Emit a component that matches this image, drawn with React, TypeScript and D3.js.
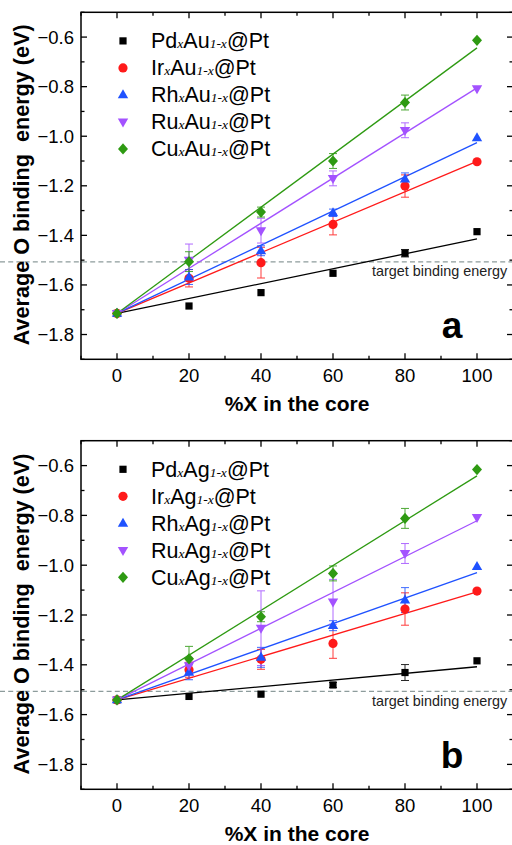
import * as d3 from 'd3'

const W = 512
const H = 845

// compositions (%X in the core)
const xs = [0, 20, 40, 60, 80, 100]
const elements = ['Pd', 'Ir', 'Rh', 'Ru', 'Cu']
const colors = ['#000000', '#ff1a1a', '#1f52ff', '#a352ff', '#2e9a12']
const shapes = ['square', 'circle', 'up', 'down', 'diamond']

// panel a: X(x)Au(1-x)@Pt
const auPd = [-1.715, -1.685, -1.631, -1.553, -1.472, -1.385]
const auIr = [-1.715, -1.573, -1.51, -1.356, -1.201, -1.103]
const auRh = [-1.715, -1.568, -1.462, -1.309, -1.173, -1.007]
const auRu = [-1.715, -1.5, -1.381, -1.17, -0.976, -0.808]
const auCu = [-1.715, -1.506, -1.306, -1.1, -0.864, -0.613]
const auPdErr = [0, 0, 0, 0, 0.015, 0]
const auIrErr = [0, 0.035, 0.062, 0.042, 0.045, 0]
const auRhErr = [0, 0.03, 0.02, 0.015, 0.025, 0]
const auRuErr = [0, 0.065, 0.05, 0.03, 0.03, 0]
const auCuErr = [0, 0.04, 0.02, 0.03, 0.03, 0]

// panel b: X(x)Ag(1-x)@Pt
const agPd = [-1.541, -1.527, -1.518, -1.481, -1.431, -1.384]
const agIr = [-1.541, -1.42, -1.378, -1.314, -1.176, -1.104]
const agRh = [-1.541, -1.43, -1.37, -1.243, -1.14, -1.006]
const agRu = [-1.541, -1.403, -1.253, -1.147, -0.953, -0.808]
const agCu = [-1.541, -1.376, -1.207, -1.033, -0.812, -0.616]
const agPdErr = [0, 0, 0, 0.01, 0.032, 0]
const agIrErr = [0, 0.03, 0.04, 0.06, 0.065, 0]
const agRhErr = [0, 0.03, 0.04, 0.02, 0.05, 0]
const agRuErr = [0, 0.03, 0.15, 0.09, 0.04, 0]
const agCuErr = [0, 0.05, 0.02, 0.03, 0.04, 0]

const target = -1.507
const xMajor = [0, 20, 40, 60, 80, 100]
const xMinor = d3.range(-10, 111, 10).filter(v => !xMajor.includes(v))
const yMajor = [-0.6, -0.8, -1.0, -1.2, -1.4, -1.6, -1.8]
const yMinor = [-0.5, -0.7, -0.9, -1.1, -1.3, -1.5, -1.7, -1.9]

const panels = [
  { host: 'Au', tag: 'a', top: 12.3, bottom: 359.3, ys: [auPd, auIr, auRh, auRu, auCu], errs: [auPdErr, auIrErr, auRhErr, auRuErr, auCuErr] },
  { host: 'Ag', tag: 'b', top: 440.7, bottom: 789.3, ys: [agPd, agIr, agRh, agRu, agCu], errs: [agPdErr, agIrErr, agRhErr, agRuErr, agCuErr] },
]

const font = 'Arial, "Liberation Sans", sans-serif'
const serif = '"Liberation Serif", "Times New Roman", serif'

// least squares through the first point, as the fit lines start at x = 0
const fit = (ys: number[]) => {
  const y0 = ys[0]
  const num = d3.sum(xs, (x, i) => x * (ys[i] - y0))
  const den = d3.sum(xs, x => x * x)
  const k = num / den
  return [[0, y0], [100, y0 + 100 * k]] as [number, number][]
}

const Marker = ({ shape, cx, cy, color }: { shape: string, cx: number, cy: number, color: string }) => {
  if (shape === 'square') return <rect x={cx - 3.6} y={cy - 3.6} width={7.2} height={7.2} fill={color} />
  if (shape === 'circle') return <circle cx={cx} cy={cy} r={4.6} fill={color} />
  let pts: number[][] = []
  if (shape === 'up') pts = [[0, -5.6], [5.2, 3.4], [-5.2, 3.4]]
  if (shape === 'down') pts = [[0, 5.6], [5.2, -3.4], [-5.2, -3.4]]
  if (shape === 'diamond') pts = [[0, -5.6], [5, 0], [0, 5.6], [-5, 0]]
  return <polygon points={pts.map(p => `${cx + p[0]},${cy + p[1]}`).join(' ')} fill={color} />
}

const Panel = ({ p }: { p: typeof panels[number] }) => {
  const left = 81
  const right = 513
  const x = d3.scaleLinear([-10, 110], [left, right])
  const y = d3.scaleLinear([-1.9, -0.5], [p.bottom, p.top])
  const line = d3.line<[number, number]>().x(d => x(d[0])).y(d => y(d[1]))
  const legTop = p.top + 28.6
  return (
    <g>
      {/* target line */}
      <line x1={0} x2={W} y1={y(target)} y2={y(target)} stroke="#8d9c9c" strokeWidth={1.3} strokeDasharray="5,3.2" />
      <text x={372} y={y(target) + 14.5} fontFamily={font} fontSize={14.4} fill="#222">target binding energy</text>

      {/* fit lines */}
      {p.ys.map((ys, i) => (
        <path key={'l' + i} d={line(fit(ys)) ?? ''} fill="none" stroke={colors[i]} strokeWidth={1.3} />
      ))}
      {/* error bars */}
      {p.ys.map((ys, i) => xs.map((xv, j) => {
        const e = p.errs[i][j]
        if (!e) return null
        const cx = x(xv)
        return (
          <g key={`e${i}-${j}`} stroke={colors[i]} strokeWidth={1} opacity={0.85}>
            <line x1={cx} x2={cx} y1={y(ys[j] - e)} y2={y(ys[j] + e)} />
            <line x1={cx - 4} x2={cx + 4} y1={y(ys[j] - e)} y2={y(ys[j] - e)} />
            <line x1={cx - 4} x2={cx + 4} y1={y(ys[j] + e)} y2={y(ys[j] + e)} />
          </g>
        )
      }))}
      {/* points */}
      {p.ys.map((ys, i) => xs.map((xv, j) => (
        <Marker key={`m${i}-${j}`} shape={shapes[i]} cx={x(xv)} cy={y(ys[j])} color={colors[i]} />
      )))}

      {/* frame and ticks */}
      <rect x={left} y={p.top} width={right - left} height={p.bottom - p.top} fill="none" stroke="#000" strokeWidth={1.5} />
      {xMajor.map(v => (
        <g key={'xM' + v} stroke="#000" strokeWidth={1.3}>
          <line x1={x(v)} x2={x(v)} y1={p.bottom} y2={p.bottom - 6} />
          <line x1={x(v)} x2={x(v)} y1={p.top} y2={p.top + 6} />
        </g>
      ))}
      {xMinor.map(v => (
        <g key={'xm' + v} stroke="#000" strokeWidth={1.3}>
          <line x1={x(v)} x2={x(v)} y1={p.bottom} y2={p.bottom - 3.5} />
          <line x1={x(v)} x2={x(v)} y1={p.top} y2={p.top + 3.5} />
        </g>
      ))}
      {yMajor.map(v => (
        <g key={'yM' + v} stroke="#000" strokeWidth={1.3}>
          <line x1={left} x2={left + 6} y1={y(v)} y2={y(v)} />
          <line x1={right} x2={right - 6} y1={y(v)} y2={y(v)} />
        </g>
      ))}
      {yMinor.map(v => (
        <g key={'ym' + v} stroke="#000" strokeWidth={1.3}>
          <line x1={left} x2={left + 3.5} y1={y(v)} y2={y(v)} />
          <line x1={right} x2={right - 3.5} y1={y(v)} y2={y(v)} />
        </g>
      ))}
      {xMajor.map(v => (
        <text key={'xl' + v} x={x(v)} y={p.bottom + 22.5} textAnchor="middle" fontFamily={font} fontSize={18.5}>{v}</text>
      ))}
      {yMajor.map(v => (
        <text key={'yl' + v} x={74} y={y(v) + 6.5} textAnchor="end" fontFamily={font} fontSize={18.5}>{d3.format('.1f')(v)}</text>
      ))}
      <text x={(left + right) / 2} y={p.bottom + 51.5} textAnchor="middle" fontFamily={font} fontSize={21} fontWeight="bold">%X in the core</text>
      <text transform={`translate(29,${(p.top + p.bottom) / 2 - 1}) rotate(-90)`} textAnchor="middle" fontFamily={font} fontSize={21.6} fontWeight="bold" style={{ whiteSpace: 'pre' }}>{'Average O binding  energy (eV)'}</text>
      <text x={452} y={p.bottom - 21} textAnchor="middle" fontFamily={font} fontSize={37} fontWeight="bold">{p.tag}</text>

      {/* legend */}
      {elements.map((el, i) => {
        const ly = legTop + i * 27
        return (
          <g key={'lg' + el}>
            <Marker shape={shapes[i]} cx={123} cy={ly} color={colors[i]} />
            <text x={151} y={ly + 7.5} fontFamily={font} fontSize={21.5}>
              {el}
              <tspan fontFamily={serif} fontStyle="italic" fontSize={13.5}>x</tspan>
              {p.host}
              <tspan fontFamily={serif} fontStyle="italic" fontSize={13.5}>1-x</tspan>
              @Pt
            </text>
          </g>
        )
      })}
    </g>
  )
}

export default function App() {
  return (
    <svg width={W} height={H} viewBox={`0 0 ${W} ${H}`} style={{ position: 'absolute', left: 0, top: 0, background: '#fff' }}>
      <rect width={W} height={H} fill="#fff" />
      {panels.map(p => <Panel key={p.tag} p={p} />)}
    </svg>
  )
}
